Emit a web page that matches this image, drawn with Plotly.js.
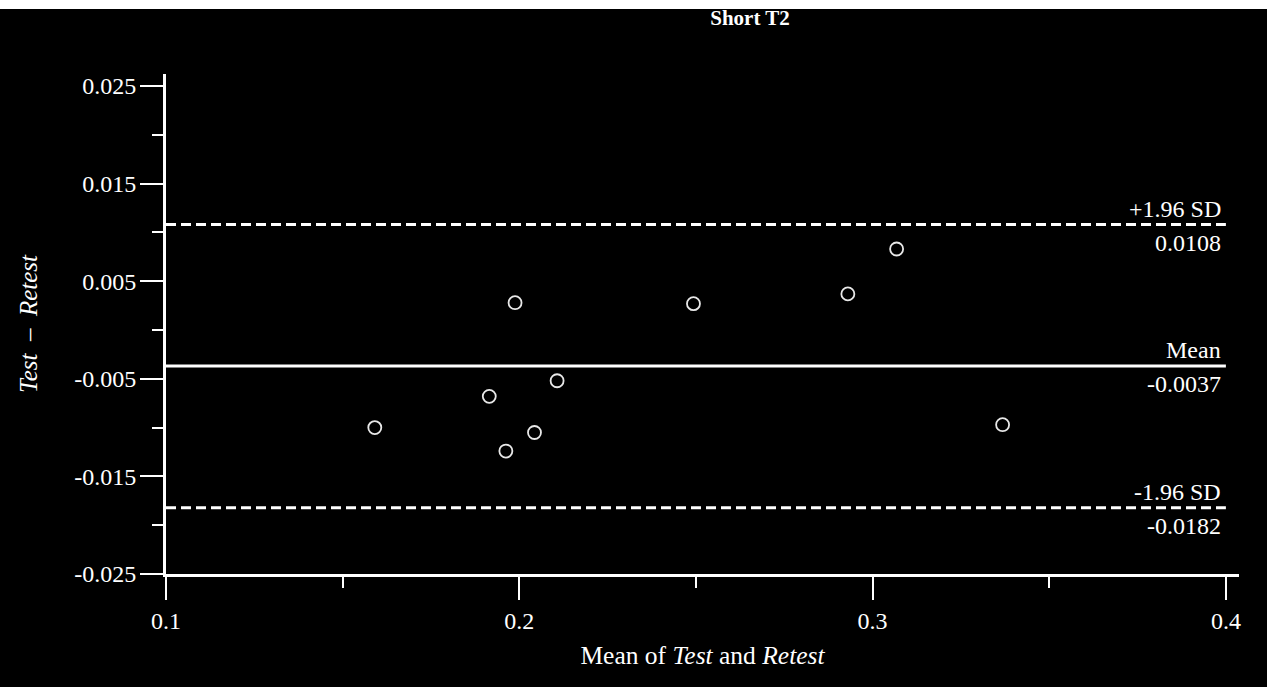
<!DOCTYPE html>
<html>
<head>
<meta charset="utf-8">
<script src="https://cdn.plot.ly/plotly-3.0.1.min.js"></script>
<style>
html,body{margin:0;padding:0;background:#ffffff;}
#chart{position:absolute;left:0;top:0;width:1267px;height:687px;}
</style>
</head>
<body>
<div id="chart"></div>
<script>
// Data
const meanValues = [0.1591, 0.1915, 0.1962, 0.1988, 0.2043, 0.2107, 0.2493, 0.2930, 0.3068, 0.3368];
const diffValues = [-0.0100, -0.0068, -0.0124, 0.0028, -0.0105, -0.0052, 0.0027, 0.0037, 0.0083, -0.0097];
const meanDiff = -0.0037;
const upperLoA = 0.0108;
const lowerLoA = -0.0182;
const xTickVals = [0.1, 0.2, 0.3, 0.4];
const xTickText = ["0.1", "0.2", "0.3", "0.4"];
const yTickVals = [0.025, 0.015, 0.005, -0.005, -0.015, -0.025];
const yTickText = ["0.025", "0.015", "0.005", "-0.005", "-0.015", "-0.025"];
const lineLabels = ["+1.96 SD", "Mean", "-1.96 SD"];
const lineValues = [upperLoA, meanDiff, lowerLoA];
const lineValueText = ["0.0108", "-0.0037", "-0.0182"];
const xLineRange = [0.1, 0.4];

const FONT = "'Liberation Serif', 'Times New Roman', serif";
const WHITE = "#ffffff";

const W = 1267, H = 687;
const M = {l: 166, r: 28, t: 74, b: 113};
const plotW = W - M.l - M.r, plotH = H - M.t - M.b;

const traces = [
  {
    x: meanValues, y: diffValues, type: "scatter", mode: "markers",
    marker: {symbol: "circle-open", size: 13, color: "#e8e8e8", line: {width: 1.8, color: "#e8e8e8"}},
    showlegend: false, hoverinfo: "x+y"
  },
  {
    x: xLineRange, y: [upperLoA, upperLoA], type: "scatter", mode: "lines",
    line: {color: WHITE, width: 3, dash: "10px,5px"}, showlegend: false, hoverinfo: "skip"
  },
  {
    x: xLineRange, y: [meanDiff, meanDiff], type: "scatter", mode: "lines",
    line: {color: WHITE, width: 3}, showlegend: false, hoverinfo: "skip"
  },
  {
    x: xLineRange, y: [lowerLoA, lowerLoA], type: "scatter", mode: "lines",
    line: {color: WHITE, width: 3, dash: "10px,5px"}, showlegend: false, hoverinfo: "skip"
  }
];

const annotations = [];
for (let i = 0; i < lineLabels.length; i++) {
  annotations.push({
    x: xLineRange[1], y: lineValues[i], xref: "x", yref: "y",
    text: lineLabels[i], showarrow: false, xanchor: "right", yanchor: "bottom",
    xshift: -3, yshift: 1, font: {family: FONT, size: 24, color: WHITE}
  });
  annotations.push({
    x: xLineRange[1], y: lineValues[i], xref: "x", yref: "y",
    text: lineValueText[i], showarrow: false, xanchor: "right", yanchor: "top",
    xshift: -3, yshift: -3, font: {family: FONT, size: 24, color: WHITE}
  });
}

// white strip across the top of the picture (9 px), as in the reference
const stripShape = {
  type: "rect", xref: "paper", yref: "paper", layer: "above",
  x0: -M.l / plotW - 0.01, x1: 1 + M.r / plotW + 0.01,
  y0: 1 + (M.t - 9) / plotH, y1: 1 + M.t / plotH + 0.01,
  fillcolor: "#ffffff", line: {width: 0}
};

const layout = {
  width: W, height: H,
  paper_bgcolor: "#000000", plot_bgcolor: "#000000",
  margin: {l: M.l, r: M.r, t: M.t, b: M.b, pad: 0},
  font: {family: FONT, size: 24, color: WHITE},
  title: {
    text: "<b>Short T2</b>", x: 750 / W, xanchor: "center", xref: "container",
    y: 1 - 18 / H, yanchor: "middle", yref: "container",
    font: {family: FONT, size: 21, color: WHITE}
  },
  xaxis: {
    range: [0.1, 0.40371], showgrid: false, zeroline: false,
    showline: true, linecolor: WHITE, linewidth: 3,
    ticks: "outside", ticklen: 23, tickwidth: 2, tickcolor: WHITE,
    tickvals: xTickVals, ticktext: xTickText,
    minor: {ticks: "outside", tickvals: [0.15, 0.25, 0.35], ticklen: 11, tickwidth: 2, tickcolor: WHITE},
    tickfont: {family: FONT, size: 24, color: WHITE},
    title: {text: "Mean of <i>Test</i> and <i>Retest</i>", standoff: 14, font: {family: FONT, size: 25.5, color: WHITE}},
    automargin: false, fixedrange: true
  },
  yaxis: {
    range: [-0.025, 0.02623], showgrid: false, zeroline: false,
    showline: true, linecolor: WHITE, linewidth: 3,
    ticks: "outside", ticklen: 23, tickwidth: 2, tickcolor: WHITE,
    tickvals: yTickVals, ticktext: yTickText, ticklabelstandoff: -1,
    minor: {ticks: "outside", tickvals: [0.02, 0.01, 0.0, -0.01, -0.02], ticklen: 11, tickwidth: 2, tickcolor: WHITE},
    tickfont: {family: FONT, size: 24, color: WHITE},
    title: {text: "<i>Test</i>  \u2013  <i>Retest</i>", standoff: 30, font: {family: FONT, size: 25, color: WHITE}},
    automargin: false, fixedrange: true
  },
  shapes: [stripShape],
  annotations: annotations
};

Plotly.newPlot("chart", traces, layout, {displayModeBar: false, staticPlot: true});
</script>
</body>
</html>
